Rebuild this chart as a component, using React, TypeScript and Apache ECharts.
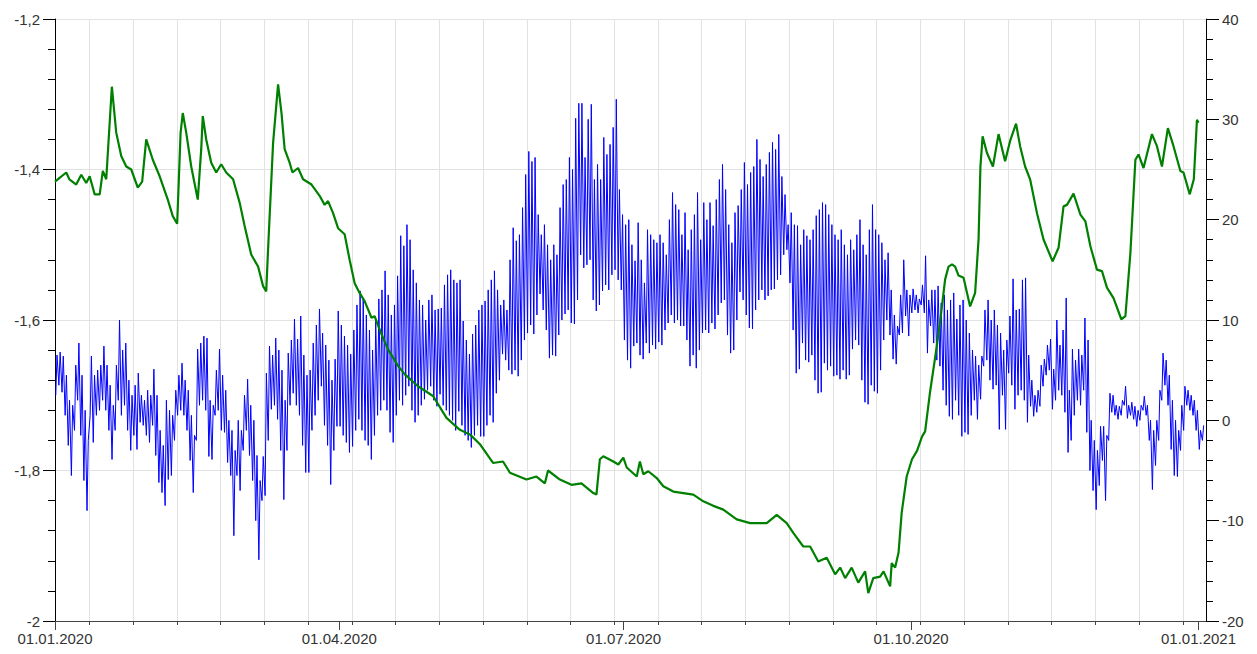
import React, { useEffect, useRef } from "react";
import * as echarts from "echarts";

// Left axis series (green): day offset from 01.01.2020 and level
const greenDays = [
  0, 3.6, 4.6, 6.8, 8.4, 10.0, 11.1, 12.7, 14.3, 15.3, 16.4, 18.2, 19.6, 21.2, 22.8, 24.4, 26.5, 27.9, 29.2, 31.3,
  33.5, 36.1, 37.7, 39.1, 40.2, 40.9, 42.0, 43.6, 45.7, 46.8, 47.3, 48.4, 50.0, 51.6, 53.2, 54.8, 57.0, 59.1, 60.7, 62.8,
  65.0, 66.6, 67.6, 68.2, 69.8, 71.4, 72.5, 73.5, 75.1, 76.0, 77.8, 79.4, 82.1, 84.7, 86.3, 87.4, 89.0, 90.6, 92.7, 94.3,
  95.9, 97.5, 99.1, 101.3, 102.3, 104.5, 106.6, 109.8, 111.9, 116.2, 121.0, 125.3, 129.6, 132.8, 136.0, 140.2, 143.4, 145.6, 150.9, 154.1,
  156.8, 157.8, 161.6, 165.3, 168.5, 172.3, 173.3, 174.4, 175.5, 178.7, 180.3, 181.9, 183.0, 186.2, 187.2, 188.3, 189.9, 192.6, 194.7, 197.9,
  204.3, 207.5, 210.7, 213.9, 218.2, 222.5, 227.8, 231.0, 234.2, 236.3, 239.5, 241.7, 244.3, 247.0, 249.7, 251.3, 252.9, 255.0, 257.1, 259.3,
  260.3, 261.9, 264.1, 265.2, 267.3, 267.8, 268.9, 270.0, 271.0, 272.6, 274.3, 275.9, 277.5, 278.5, 280.1, 281.7, 283.3, 284.9, 286.0, 287.1,
  288.1, 289.2, 290.8, 292.9, 294.5, 295.6, 296.2, 296.9, 298.3, 300.2, 302.0, 304.1, 305.7, 307.6, 308.9, 310.5, 312.1, 314.3, 316.4, 319.3,
  321.2, 322.8, 323.9, 326.0, 328.2, 329.8, 331.4, 333.5, 335.1, 336.7, 338.8, 341.3, 342.6, 344.2, 345.8, 346.8, 348.4, 351.1, 352.7, 354.3,
  356.2, 358.0, 360.2, 361.2, 363.2, 364.5, 365.5, 366.0,
];
const greenLevel = [
  -1.416, -1.404, -1.413, -1.42, -1.407, -1.418, -1.409, -1.433, -1.433, -1.402, -1.413, -1.29, -1.351, -1.382, -1.396, -1.4, -1.424, -1.416, -1.36, -1.387,
  -1.409, -1.44, -1.462, -1.472, -1.351, -1.325, -1.351, -1.396, -1.44, -1.373, -1.329, -1.36, -1.391, -1.404, -1.393, -1.404, -1.413, -1.444, -1.475, -1.513,
  -1.529, -1.555, -1.562, -1.506, -1.365, -1.287, -1.325, -1.373, -1.391, -1.404, -1.398, -1.413, -1.42, -1.435, -1.447, -1.442, -1.458, -1.478, -1.486, -1.52,
  -1.551, -1.564, -1.575, -1.597, -1.595, -1.619, -1.639, -1.661, -1.672, -1.688, -1.701, -1.73, -1.746, -1.752, -1.765, -1.79, -1.788, -1.803, -1.812, -1.808,
  -1.817, -1.8, -1.812, -1.819, -1.817, -1.83, -1.832, -1.785, -1.781, -1.788, -1.792, -1.783, -1.796, -1.808, -1.788, -1.805, -1.801, -1.81, -1.821, -1.828,
  -1.832, -1.841, -1.847, -1.852, -1.865, -1.87, -1.87, -1.859, -1.87, -1.883, -1.901, -1.901, -1.921, -1.916, -1.938, -1.929, -1.943, -1.929, -1.949, -1.934,
  -1.963, -1.943, -1.941, -1.934, -1.954, -1.923, -1.929, -1.909, -1.856, -1.808, -1.785, -1.774, -1.755, -1.748, -1.695, -1.65, -1.602, -1.546, -1.529, -1.526,
  -1.529, -1.541, -1.544, -1.582, -1.564, -1.493, -1.396, -1.356, -1.378, -1.396, -1.353, -1.389, -1.362, -1.339, -1.369, -1.396, -1.413, -1.458, -1.493, -1.522,
  -1.504, -1.449, -1.447, -1.432, -1.46, -1.469, -1.502, -1.533, -1.535, -1.557, -1.571, -1.599, -1.595, -1.511, -1.387, -1.38, -1.398, -1.353, -1.369, -1.396,
  -1.345, -1.369, -1.402, -1.404, -1.433, -1.413, -1.334, -1.338,
];

// Right axis series (blue): daily low and high temperature, day 0 = 01.01.2020
const tempLow = [
  2.5, 3.5, 2.8, 0.5, -2.5, -5.5, -1.0, 2.0, -1.5, -6.0,
  -9.0, 0.5, -2.2, 0.5, 1.0, 2.0, 1.0, -1.0, -3.9, -1.0,
  2.0, 0.5, 1.5, -1.0, -3.0, -1.5, -2.9, -0.2, -0.5, -1.5,
  -2.2, -0.5, -3.5, -6.2, -7.2, -8.5, -5.9, -5.5, -2.0, 0.5,
  1.0, 0.5, -1.0, -4.0, -7.2, -2.0, 1.5, 2.0, 1.0, -3.6,
  -3.9, 0.5, 1.0, -1.0, -1.2, -4.2, -5.5, -11.5, -5.5, -7.0,
  -3.0, -1.0, -3.5, -6.0, -10.0, -13.9, -8.0, -7.5, -2.0, 1.1,
  1.5, 0.1, -3.0, -7.9, -3.0, 1.5, 2.7, 1.5, 0.5, -2.5,
  -5.2, -5.2, -1.0, 0.5, 2.0, 3.4, -0.5, -2.5, -6.4, -3.0,
  -0.6, -0.6, -1.5, -2.2, -3.2, -2.6, -1.0, 0.1, -1.0, -2.0,
  -2.5, -3.9, -1.5, 0.5, 1.0, 2.0, 1.0, -1.2, -2.2, 0.5,
  2.0, 1.5, 2.5, 3.4, 1.0, -0.2, 0.5, 1.5, 2.1, 3.0,
  3.4, 2.0, 1.4, 2.6, 1.5, 1.0, 0.5, 0.0, -1.0, 0.9,
  -0.5, -1.5, -2.0, -2.7, -1.5, -0.5, -1.6, -1.6, -0.5, 0.5,
  -0.2, 2.7, 4.0, 6.6, 6.0, 5.0, 4.6, 5.0, 4.4, 6.0,
  8.0, 8.7, 9.5, 8.6, 10.5, 12.6, 11.0, 9.0, 6.2, 6.5,
  6.4, 8.5, 10.0, 10.6, 11.0, 9.7, 9.6, 12.0, 16.5, 15.2,
  15.5, 16.0, 12.0, 10.9, 11.5, 12.9, 13.5, 13.0, 14.5, 15.0,
  14.0, 13.0, 8.0, 6.0, 5.2, 7.4, 7.7, 6.5, 6.1, 7.7,
  6.7, 7.5, 7.1, 7.8, 7.5, 9.0, 9.7, 10.5, 9.7, 10.0,
  9.4, 9.4, 8.0, 5.4, 6.5, 5.2, 7.0, 8.7, 9.0, 8.7,
  9.7, 9.1, 10.5, 11.7, 12.0, 8.5, 6.7, 7.0, 10.0, 12.8,
  12.0, 10.5, 9.2, 9.1, 11.0, 12.0, 13.0, 12.0, 12.4, 13.0,
  13.1, 14.0, 14.5, 16.5, 17.0, 13.7, 9.0, 4.7, 5.1, 7.7,
  6.0, 5.8, 6.5, 4.0, 2.7, 2.8, 5.7, 5.0, 5.4, 4.4,
  4.5, 4.1, 5.0, 4.1, 4.5, 7.1, 8.0, 7.5, 4.0, 1.8,
  1.6, 3.5, 2.9, 2.7, 5.0, 8.0, 10.0, 8.5, 6.1, 5.6,
  8.5, 8.7, 10.4, 8.4, 10.7, 11.0, 10.7, 11.5, 10.7, 6.7,
  9.4, 7.7, 6.0, 5.4, 3.0, 1.5, 0.4, 0.1, 2.0, 0.5,
  -1.6, -1.2, -1.4, 0.5, 2.0, 0.1, 2.1, 5.4, 6.0, 4.0,
  3.1, 3.5, -0.9, 2.5, -0.9, 4.7, 3.5, 1.1, 2.5, 3.0,
  2.0, -0.2, 1.4, 0.4, 0.8, 1.4, 3.4, 4.5, 5.0, 1.1,
  2.0, 3.0, 2.5, 0.8, -3.2, -2.0, 0.5, 2.0, 1.5, 3.0,
  -1.2, -5.0, -7.0, -8.9, -6.5, -4.0, -8.0, -2.0, 0.8, 0.5,
  0.1, 0.5, 1.5, 0.2, 0.5, 0.1, -0.6, 0.0, 1.0, 0.5,
  -2.0, -6.9, -4.5, -2.0, 2.0, 3.5, 1.5, -2.9, -5.5, -5.6,
  -3.0, -1.0, 1.5, 1.0, 0.5, -1.0, -2.9, -2.0,
];
const tempHigh = [
  6.5, 6.8, 6.4, 4.5, 2.0, 1.5, 5.5, 7.7, 4.5, 1.0,
  -2.0, 6.4, 4.5, 5.0, 5.5, 7.4, 5.5, 3.5, 1.5, 5.5,
  10.0, 7.0, 7.7, 4.0, 2.5, 3.5, 4.7, 2.5, 2.0, 3.0,
  2.5, 5.1, 2.5, -1.0, -2.5, 2.0, 1.0, 0.5, 3.0, 4.5,
  5.7, 4.0, 3.0, 0.5, -1.5, 7.1, 7.7, 8.4, 8.2, 2.0,
  1.5, 5.0, 7.1, 4.5, 3.0, 0.0, -1.0, -3.0, 0.0, -1.0,
  2.5, 4.1, 1.5, 0.0, -3.5, -6.0, -3.6, 4.7, 7.4, 6.5,
  8.2, 7.0, 5.0, 2.0, 6.7, 8.0, 10.1, 8.1, 10.4, 6.5,
  4.5, 5.0, 7.7, 9.5, 11.1, 8.7, 7.5, 6.0, 4.0, 6.1,
  10.9, 9.5, 8.4, 7.5, 6.6, 9.0, 11.5, 12.9, 12.1, 10.5,
  9.0, 7.0, 10.0, 12.1, 13.0, 14.9, 12.5, 10.5, 11.5, 14.4,
  18.4, 17.4, 19.5, 18.0, 15.0, 13.7, 12.0, 11.5, 10.0, 12.0,
  12.5, 11.0, 11.1, 11.2, 13.5, 14.5, 15.0, 14.0, 13.7, 14.0,
  9.9, 8.0, 6.6, 8.6, 9.5, 11.0, 11.5, 11.9, 13.0, 14.0,
  14.9, 13.0, 11.5, 12.0, 11.0, 16.0, 19.2, 17.9, 18.5, 21.2,
  24.5, 26.8, 25.8, 26.2, 20.5, 18.5, 19.5, 17.5, 16.0, 17.5,
  16.5, 21.2, 23.5, 24.0, 26.2, 25.0, 30.1, 31.6, 31.6, 26.2,
  30.0, 31.5, 24.0, 25.5, 24.0, 28.2, 26.5, 27.5, 29.2, 32.0,
  23.0, 20.5, 19.5, 20.0, 17.5, 15.9, 19.7, 16.0, 13.7, 19.0,
  18.5, 18.0, 17.7, 18.5, 17.7, 16.5, 20.0, 22.7, 21.5, 21.0,
  18.5, 20.7, 17.0, 19.0, 20.5, 22.7, 18.0, 21.7, 20.0, 21.7,
  19.4, 22.0, 24.0, 25.5, 23.0, 19.5, 17.7, 20.7, 21.4, 23.0,
  25.7, 23.5, 24.7, 25.3, 28.0, 26.0, 24.3, 25.5, 26.7, 27.7,
  27.0, 28.5, 24.3, 22.5, 19.5, 20.7, 19.5, 19.4, 17.5, 19.0,
  18.4, 18.0, 19.0, 20.4, 21.0, 21.7, 21.5, 20.5, 19.5, 18.5,
  18.0, 19.0, 17.5, 16.5, 18.0, 17.0, 18.5, 20.0, 17.5, 16.5,
  19.0, 21.5, 19.0, 18.5, 17.7, 16.0, 16.7, 13.0, 10.5, 9.4,
  12.5, 16.0, 13.0, 12.5, 13.1, 12.5, 12.1, 13.5, 16.4, 12.0,
  13.0, 13.0, 13.4, 11.7, 12.5, 11.0, 12.0, 12.7, 10.1, 11.5,
  12.0, 10.0, 8.7, 7.0, 6.4, 5.5, 6.4, 11.0, 12.0, 10.0,
  11.0, 9.5, 8.7, 7.0, 8.0, 10.4, 14.1, 11.0, 11.1, 14.0,
  14.2, 6.5, 4.0, 2.5, 3.0, 5.5, 6.1, 7.5, 8.1, 5.1,
  10.0, 7.5, 9.0, 12.2, 3.0, 7.1, 6.0, 7.1, 6.5, 10.2,
  8.0, 0.0, -2.0, -3.0, -0.6, -0.6, -1.5, 2.7, 2.5, 1.5,
  1.4, 2.0, 3.4, 1.5, 1.8, 1.4, 1.0, 1.5, 2.4, 1.5,
  0.0, -1.0, 0.0, 3.0, 6.7, 6.0, 4.5, 2.0, 0.0, -1.0,
  1.5, 3.4, 3.0, 2.5, 2.0, 1.0, -1.0, -0.5,
];

// Time of day (fraction) for the daily low and high readings
const lowTimeOfDay = 0.25;
const highTimeOfDay = 0.65;

// X axis: labelled dates and the two-weekly grid lines (day offsets from 01.01.2020)
const dateTickDays = [0, 91, 182, 274, 366];
const dateTickLabels = ["01.01.2020", "01.04.2020", "01.07.2020", "01.10.2020", "01.01.2021"];
const gridDays = [11, 25, 39, 53, 67, 81, 95, 109, 123, 137, 151, 165, 179, 193, 207, 221, 235, 249, 263, 277, 291, 305, 319, 333, 347, 361];
const xMinDay = 0;
const xMaxDay = 368.4;

const FONT = 'Arial, "Liberation Sans", sans-serif';

export default function App() {
  const ref = useRef<HTMLDivElement>(null);
  useEffect(() => {
    document.body.style.margin = "0";
    const chart = echarts.init(ref.current as HTMLDivElement, null, { renderer: "svg" });
    const tempData: number[][] = [];
    tempLow.forEach((lo, i) => {
      tempData.push([i + lowTimeOfDay, lo]);
      tempData.push([i + highTimeOfDay, tempHigh[i]]);
    });
    const levelData = greenDays.map((d, i) => [d, greenLevel[i]]);
    chart.setOption({
      animation: false,
      grid: { left: 55, right: 51, top: 19, bottom: 33, containLabel: false, outerBoundsMode: "none" },
      xAxis: [
        {
          type: "value",
          min: xMinDay,
          max: xMaxDay,
          position: "bottom",
          axisLine: { show: true, onZero: false, lineStyle: { color: "#444", width: 1 } },
          axisTick: { show: true, length: 9, customValues: dateTickDays, lineStyle: { color: "#444" } },
          axisLabel: {
            customValues: dateTickDays,
            formatter: (v: number) => {
              const k = dateTickDays.indexOf(Math.round(v));
              return k >= 0 ? dateTickLabels[k] : "";
            },
            fontSize: 15,
            fontFamily: FONT,
            color: "#333",
            margin: 10,
          },
          splitLine: { show: false },
        },
        {
          type: "value",
          min: xMinDay,
          max: xMaxDay,
          position: "bottom",
          offset: 0,
          axisLine: { show: false, onZero: false },
          axisTick: { show: true, length: 4, customValues: gridDays, lineStyle: { color: "#444" } },
          axisLabel: { show: false },
          splitLine: { show: true, lineStyle: { color: "#e2e2e2", width: 1 } },
        },
      ],
      yAxis: [
        {
          type: "value",
          min: -2,
          max: -1.2,
          interval: 0.2,
          position: "left",
          axisLine: { show: true, onZero: false, lineStyle: { color: "#000" } },
          axisTick: { show: true, length: 12, lineStyle: { color: "#000" } },
          minorTick: { show: true, splitNumber: 5, length: 7, lineStyle: { color: "#000" } },
          axisLabel: {
            formatter: (v: number) => String(Math.round(v * 10) / 10).replace(".", ","),
            fontSize: 15,
            fontFamily: FONT,
            color: "#333",
            margin: 15,
          },
          splitLine: { show: true, lineStyle: { color: "#e2e2e2", width: 1 } },
        },
        {
          type: "value",
          min: -20,
          max: 40,
          interval: 10,
          position: "right",
          axisLine: { show: true, onZero: false, lineStyle: { color: "#000" } },
          axisTick: { show: true, length: 13, lineStyle: { color: "#000" } },
          minorTick: { show: true, splitNumber: 5, length: 7, lineStyle: { color: "#000" } },
          axisLabel: { fontSize: 15, fontFamily: FONT, color: "#333", margin: 16 },
          splitLine: { show: false },
        },
      ],
      series: [
        {
          type: "line",
          xAxisIndex: 0,
          yAxisIndex: 1,
          data: tempData,
          showSymbol: false,
          symbol: "none",
          lineStyle: { color: "#0000ff", width: 1 },
          emphasis: { disabled: true },
          z: 2,
        },
        {
          type: "line",
          xAxisIndex: 0,
          yAxisIndex: 0,
          data: levelData,
          showSymbol: false,
          symbol: "none",
          lineStyle: { color: "#008000", width: 2.2 },
          emphasis: { disabled: true },
          z: 3,
        },
      ],
    });
    return () => chart.dispose();
  }, []);
  return <div ref={ref} style={{ position: "absolute", left: 0, top: 0, width: 1257, height: 654 }} />;
}
